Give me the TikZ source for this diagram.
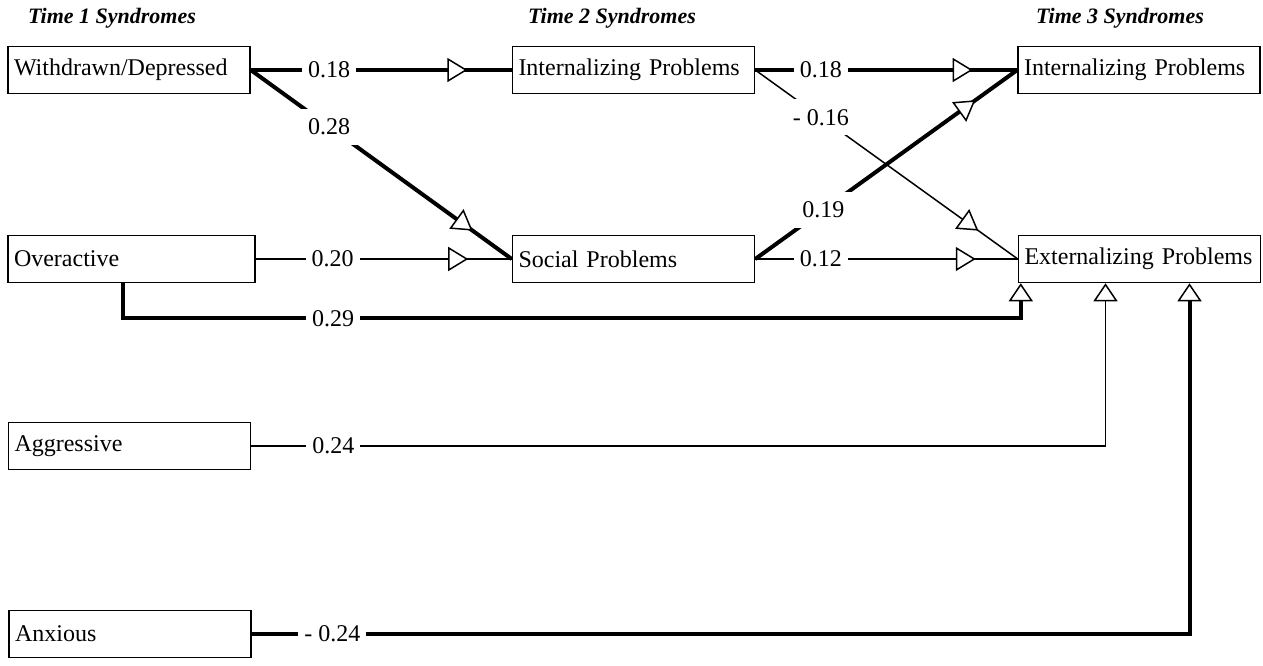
\documentclass[tikz,border=0pt]{standalone}
\usepackage{fontspec}
\setmainfont{Liberation Serif}
\usetikzlibrary{arrows.meta, decorations.markings, positioning}
\tikzset{
    >=Stealth,
    % Boxes & headings
    syn/.style={rectangle, draw, line width=0.75pt, text width=115pt, inner xsep=3pt,
                minimum height=23.5pt, align=left, font=\fontsize{12}{14}\selectfont},
    head/.style={font=\fontsize{11}{13}\selectfont\bfseries\itshape},
    % Paths & coefficients
    strong/.style={line width=2pt},
    weak/.style={line width=0.75pt},
    midtip/.style={postaction={decorate}, decoration={markings,
        mark=at position #1 with {\arrow{Triangle[fill=white, line width=0.75pt, length=10pt, width=12pt]}}}},
    midtip/.default=0.84,
    endtip/.style={-{Triangle[fill=white, line width=0.75pt, length=9pt, width=12pt]}},
    coef/.style={fill=white, inner xsep=3pt, inner ysep=1pt, font=\fontsize{12}{14}\selectfont},
    slant/.style={inner sep=5pt}
}

\begin{document}
\begin{tikzpicture}[x=0.5pt, y=-0.5pt]
\useasboundingbox (0,0) rectangle (1263,665);

% headings
\node[head] (t1) at (112,18) {Time 1 Syndromes};
\node[head] (t2) at (612,18) {Time 2 Syndromes};
\node[head] (t3) at (1120,18) {Time 3 Syndromes};

% time 1
\node[syn] (wd) at (129,70) {Withdrawn/Depressed};
\node[syn, text width=117.5pt] (ove) at (131.5,259) {Overactive};
\node[syn] (agg) at (129.5,446) {Aggressive};
\node[syn] (anx) at (130,634) {Anxious};

% time 2
\node[syn] (int2) at (633.5,70) {Internalizing Problems};
\node[syn] (soc) at (633.5,259) {Social Problems};

% time 3
\node[syn] (int3) at (1139,70) {Internalizing Problems};
\node[syn] (ext) at (1139.5,259) {Externalizing Problems};

% paths
\draw[strong, midtip=0.83] (wd.east) -- node[coef, pos=0.30] {0.18} (int2.west);
\draw[strong, midtip=0.85] (wd.east) -- node[coef, slant, pos=0.30] {0.28} (soc.west);
\draw[weak, midtip=0.83] (ove.east) -- node[coef, pos=0.30] {0.20} (soc.west);
\draw[strong, midtip=0.83] (int2.east) -- node[coef, pos=0.25] {0.18} (int3.west);
\draw[weak, midtip=0.85] (int2.east) -- node[coef, slant, pos=0.25] {- 0.16} (ext.west);
\draw[strong, midtip] (soc.east) -- node[coef, slant, pos=0.26] {0.19} (int3.west);
\draw[weak, midtip] (soc.east) -- node[coef, pos=0.25] {0.12} (ext.west);

\draw[strong, endtip] ([xshift=-4.25pt]ove.south) -- ++(0,35)
    -| node[coef, pos=0.117] {0.29} ([xshift=1.5pt]ext.south west);
\draw[weak, endtip] (agg.east) -| node[coef, pos=0.048] {0.24} ([xshift=-17pt]ext.south);
\draw[strong, endtip] (anx.east) -| node[coef, pos=0.043] {- 0.24} ([xshift=25pt]ext.south);

\end{tikzpicture}
\end{document}
